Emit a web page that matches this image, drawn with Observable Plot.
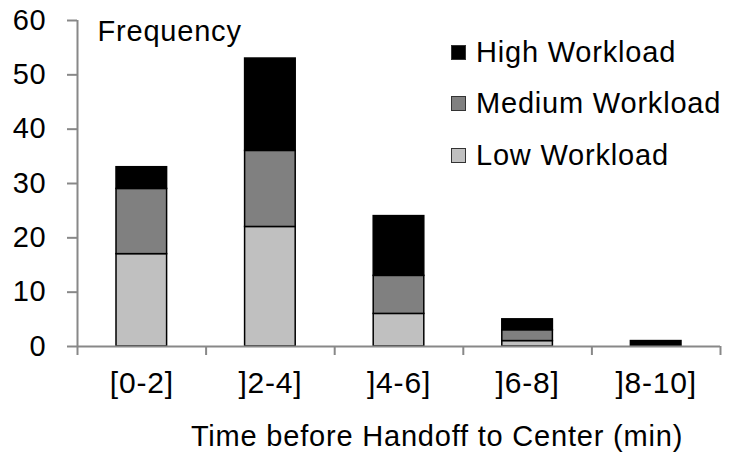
<!DOCTYPE html>
<html><head><meta charset="utf-8">
<script src="https://cdn.jsdelivr.net/npm/d3@7"></script>
<script src="https://cdn.jsdelivr.net/npm/@observablehq/plot@0.6"></script>
<style>
body{margin:0;background:#fff;font-family:"Liberation Sans",Arial,sans-serif;}
#wrap{position:relative;width:732px;height:452px;}
#legend{position:absolute;left:451px;top:35px;}
.row{display:flex;align-items:center;height:34px;margin-bottom:17.5px;font-size:29px;letter-spacing:0.8px;color:#000;white-space:nowrap;}
.sw{width:13px;height:13px;border:1px solid #333;margin-right:10px;flex:none;}
</style></head><body><div id="wrap"></div>
<script>
const bins = ["[0-2]", "]2-4]", "]4-6]", "]6-8]", "]8-10]"];
const binStart = [0, 2, 4, 6, 8];
const binEnd = [2, 4, 6, 8, 10];
const levels = ["Low Workload", "Medium Workload", "High Workload"];
const low = [17, 22, 6, 1, 0];
const medium = [12, 14, 7, 2, 0];
const high = [4, 17, 11, 2, 1];
const colors = ["#c0c0c0", "#808080", "#000000"];
const yTicks = [0, 10, 20, 30, 40, 50, 60];
const yLabel = "Frequency";
const xLabel = "Time before Handoff to Center (min)";

const series = [low, medium, high];
const mids = binStart.map((s, i) => (s + binEnd[i]) / 2);
const edges = [...binStart, binEnd[binEnd.length - 1]];
const data = [];
bins.forEach((b, i) => levels.forEach((l, j) => data.push({
  bin: b, start: binStart[i], end: binEnd[i], mid: mids[i], level: l, value: series[j][i]
})));

const font = '"Liberation Sans", Arial, sans-serif';
const chart = Plot.plot({
  width: 732, height: 452,
  marginLeft: 77, marginRight: 12, marginTop: 20, marginBottom: 106,
  style: {fontFamily: font, fontSize: "29px", letterSpacing: "0.8px", color: "#000", background: "#fff"},
  x: {domain: [0, 10]},
  y: {domain: [0, 60]},
  color: {domain: levels, range: colors},
  marks: [
    Plot.rectY(data, Plot.stackY({
      x: "mid", x1: "start", x2: "end", y: "value", fill: "level",
      filter: d => d.value > 0,
      stroke: "#000", strokeWidth: 1.5, insetLeft: 39, insetRight: 39
    })),
    Plot.ruleY([0], {stroke: "#888", strokeWidth: 2}),
    Plot.ruleX([0], {stroke: "#888", strokeWidth: 2}),
    Plot.axisY(yTicks, {tickSize: 10, tickPadding: 21, stroke: "#888", strokeWidth: 2, fontSize: 29, label: null}),
    Plot.axisX(edges, {tickSize: 9, stroke: "#888", strokeWidth: 2, tickFormat: () => "", label: null}),
    Plot.axisX(mids, {tickSize: 0, tickPadding: 25, fontSize: 30, tickFormat: d => bins[mids.indexOf(d)], label: null}),
    Plot.text([yLabel], {frameAnchor: "top-left", textAnchor: "start", lineAnchor: "top", dx: 20, dy: 0, fontSize: 29, fill: "#000"}),
    Plot.text([xLabel], {frameAnchor: "bottom", lineAnchor: "top", dx: 38, dy: 79, fontSize: 29, fill: "#000", style: "letter-spacing:1.1px"})
  ]
});
const wrap = document.getElementById("wrap");
wrap.appendChild(chart);
const legend = document.createElement("div");
legend.id = "legend";
[...levels].reverse().forEach(l => {
  const row = document.createElement("div");
  row.className = "row";
  const sw = document.createElement("div");
  sw.className = "sw";
  sw.style.background = colors[levels.indexOf(l)];
  row.appendChild(sw);
  row.appendChild(document.createTextNode(l));
  legend.appendChild(row);
});
wrap.appendChild(legend);
</script></body></html>
